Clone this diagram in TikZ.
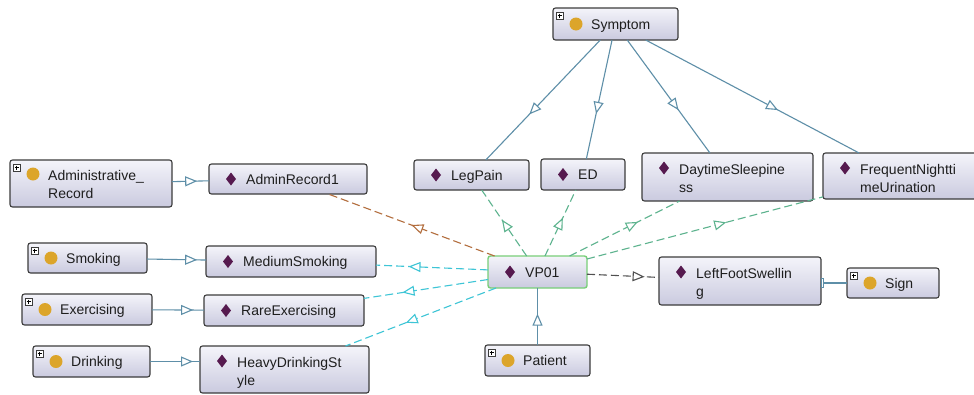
\documentclass[tikz,border=0pt]{standalone}
\usepackage{fontspec}
\setmainfont{Liberation Sans}
\usetikzlibrary{arrows.meta,decorations.markings}
\definecolor{bord}{HTML}{3C3C3C}
\definecolor{boxtop}{HTML}{F4F4FA}
\definecolor{boxbot}{HTML}{CACADF}
\definecolor{diamc}{HTML}{561A4F}
\definecolor{circc}{HTML}{DCA52A}
\definecolor{txtc}{HTML}{1E1E1E}
\definecolor{edgec}{HTML}{5E8FA8}
\definecolor{brn}{HTML}{B36E3E}
\definecolor{cyn}{HTML}{3EC5D6}
\definecolor{grn}{HTML}{5DB38E}
\definecolor{gry}{HTML}{505050}
\definecolor{vpg}{HTML}{78CF78}

\tikzset{
  box/.style={draw=bord, line width=1.1pt, rounded corners=2.5pt, top color=boxtop, bottom color=boxbot, inner sep=0pt, outer sep=0pt, anchor=north west},
  txt/.style={inner sep=0pt, anchor=base west, text=txtc, font=\fontsize{14}{18}\selectfont},
  midarr/.style={postaction={decorate}, decoration={markings, mark=at position #1 with {\arrow[solid]{Triangle[fill=white, length=12pt, width=10pt]}}}},
  clsedge/.style={color=edgec, line width=1.1pt},
  dedge/.style={line width=1.1pt, dash pattern=on 8pt off 4pt},
}

\newcommand{\twoline}[2]{\vtop{\hbox{\strut #1}\hbox{\strut #2}}}
\newcommand{\PlusBox}[2]{%
  \draw[bord, line width=0.5pt, fill=white] (#1+3,#2+4) rectangle (#1+10,#2+11);
  \draw[black, line width=0.7pt] (#1+4.5,#2+7.5) -- (#1+8.5,#2+7.5) (#1+6.5,#2+5.5) -- (#1+6.5,#2+9.5);
}
% individual, one line: [opts] name x1 y1 x2 y2 text
\newcommand{\IndOne}[7][]{%
  \node[box,#1,minimum width={(#5-#3)*1pt},minimum height={(#6-#4)*1pt}] (#2) at (#3,#4) {};
  \fill[diamc] (#3+22,{(#4+#6)/2-6.5}) -- (#3+27,{(#4+#6)/2}) -- (#3+22,{(#4+#6)/2+6.5}) -- (#3+17,{(#4+#6)/2}) -- cycle;
  \node[txt] (#2-t) at (#3+37,{(#4+#6)/2+5}) {#7};
}
% individual, two lines: name x1 y1 x2 y2 line1 line2
\newcommand{\IndTwo}[7]{%
  \node[box,minimum width={(#4-#2)*1pt},minimum height={(#5-#3)*1pt}] (#1) at (#2,#3) {};
  \fill[diamc] (#2+22,#3+8.5) -- (#2+27,#3+15) -- (#2+22,#3+21.5) -- (#2+17,#3+15) -- cycle;
  \node[txt] (#1-t) at (#2+37,#3+21) {\twoline{#6}{#7}};
}
% class, one line: name x1 y1 x2 y2 text
\newcommand{\ClsOne}[6]{%
  \node[box,minimum width={(#4-#2)*1pt},minimum height={(#5-#3)*1pt}] (#1) at (#2,#3) {};
  \fill[circc] (#2+23,{(#3+#5)/2}) circle[radius=6.5pt];
  \PlusBox{#2}{#3}
  \node[txt] (#1-t) at (#2+38,{(#3+#5)/2+5}) {#6};
}

\begin{document}
\begin{tikzpicture}[x=1pt,y=-1pt]
\useasboundingbox (0,0) rectangle (974,394);
\clip (0,0) rectangle (974,394);
\fill[white] (0,0) rectangle (974,394);

% ---- nodes ----
\node[box,minimum width=162pt,minimum height=47pt] (adm) at (10,160) {};
\fill[circc] (33,174) circle[radius=6.5pt];
\PlusBox{10}{160}
\node[txt] (adm-t) at (48,180) {\twoline{Administrative\_}{Record}};

\IndOne{ar1}{209}{164}{367}{194}{AdminRecord1}
\ClsOne{smk}{28}{243}{147}{273}{Smoking}
\IndOne{ms}{206}{246}{376}{277}{MediumSmoking}
\ClsOne{exe}{22}{294}{152}{325}{Exercising}
\IndOne{re}{204}{295}{364}{326}{RareExercising}
\ClsOne{drk}{33}{346}{150}{377}{Drinking}
\IndTwo{hds}{200}{346}{369}{393}{HeavyDrinkingSt}{yle}

\IndOne[draw=vpg, line width=1.4pt]{vp}{488}{256}{587}{288}{VP01}
\ClsOne{pat}{485}{345}{590}{376}{Patient}
\IndTwo{lfs}{659}{257}{821}{305}{LeftFootSwellin}{g}
\ClsOne{sign}{847}{268}{939}{298}{Sign}

\ClsOne{sym}{553}{8}{678}{40}{Symptom}
\IndOne{lp}{414}{160}{529}{190}{LegPain}
\IndOne{ed}{541}{159}{625}{190}{ED}
\IndTwo{ds}{642}{153}{813}{201}{DaytimeSleepine}{ss}
\IndTwo{fnu}{823}{153}{982}{199}{FrequentNightti}{meUrination}

% ---- class edges ----
\draw[clsedge, midarr=0.68] (adm) -- (ar1);
\draw[clsedge, midarr=0.85] (smk) -- (ms);
\draw[clsedge, midarr=0.79] (exe) -- (re);
\draw[clsedge, midarr=0.86] (drk.east) -- (drk.east -| hds.west);
\draw[clsedge, midarr=0.55] (pat) -- (vp);
\draw[clsedge, -{Rectangle[fill=white, length=3pt, width=10pt, line width=0.8pt]}] (sign.west) -- (sign.west -| lfs.east);
\draw[clsedge, midarr=0.62] (sym) -- (lp);
\draw[clsedge, midarr=0.62] (sym) -- (ed);
\draw[clsedge, midarr=0.62] (sym) -- (ds);
\draw[clsedge, midarr=0.62] (sym) -- (fnu);

% ---- property edges ----
\draw[dedge, color=brn, midarr=0.5] (vp) -- (ar1);
\draw[dedge, color=cyn, midarr=0.71] (vp) -- (ms);
\draw[dedge, color=cyn, midarr=0.69] (vp) -- (re);
\draw[dedge, color=cyn, midarr=0.6] (vp) -- (hds);
\draw[dedge, color=grn, midarr=0.55] (vp) -- (lp);
\draw[dedge, color=grn, midarr=0.58] (vp) -- (ed);
\draw[dedge, color=grn, midarr=0.62] (vp) -- (ds);
\draw[dedge, color=grn, midarr=0.59] (vp) -- (fnu);
\draw[dedge, color=gry, midarr=0.8] (vp) -- (lfs);
\end{tikzpicture}
\end{document}
